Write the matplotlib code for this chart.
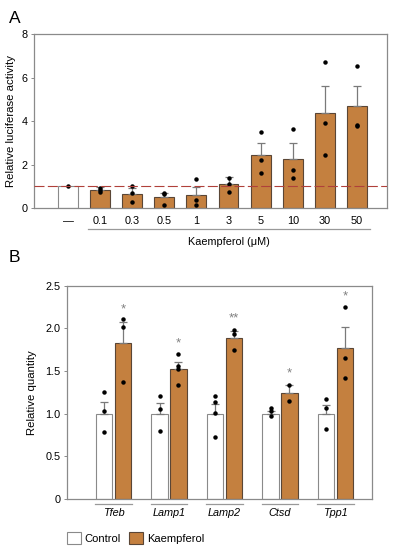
import matplotlib
matplotlib.use("Agg")
import matplotlib.pyplot as plt
from matplotlib.patches import Patch
import numpy as np

plt.rcParams['font.family'] = ['Liberation Sans', 'DejaVu Sans']

# ---------------- Panel A data ----------------
a_labels = ["—", "0.1", "0.3", "0.5", "1", "3", "5", "10", "30", "50"]
a_means = [1.0, 0.84, 0.64, 0.50, 0.58, 1.10, 2.43, 2.25, 4.36, 4.70]
a_sem = [0.0, 0.12, 0.26, 0.21, 0.40, 0.31, 0.57, 0.73, 1.24, 0.90]
a_points = [
    [1.0],
    [0.94, 0.82, 0.76],
    [1.02, 0.70, 0.26],
    [0.71, 0.16, 0.63],
    [1.35, 0.36, 0.12],
    [1.40, 0.76, 1.12],
    [3.52, 2.23, 1.60],
    [3.66, 1.74, 1.40],
    [6.74, 3.92, 2.42],
    [6.52, 3.83, 3.77],
]

# ---------------- Panel B data ----------------
genes = ["Tfeb", "Lamp1", "Lamp2", "Ctsd", "Tpp1"]
ctrl_means = [1.0, 1.0, 1.0, 1.0, 1.0]
ctrl_sem = [0.135, 0.125, 0.11, 0.03, 0.105]
ctrl_points = [
    [1.25, 1.03, 0.78],
    [1.20, 1.055, 0.80],
    [1.21, 1.14, 1.01, 0.725],
    [1.07, 1.035, 0.965],
    [1.17, 1.06, 0.815],
]
kaem_means = [1.83, 1.52, 1.885, 1.235, 1.765]
kaem_sem = [0.24, 0.08, 0.085, 0.095, 0.255]
kaem_points = [
    [2.11, 2.02, 1.37],
    [1.70, 1.56, 1.52, 1.34],
    [1.985, 1.93, 1.745],
    [1.33, 1.15],
    [2.25, 1.65, 1.42],
]
signif = ["*", "*", "**", "*", "*"]
signif_y = [2.22, 1.82, 2.115, 1.47, 2.38]

BAR = "#C4803F"
EDGE = "#5a4636"
SPINE = "#8a8a8a"
ERR = "#7a7a7a"

fig = plt.figure(figsize=(3.93, 5.5), dpi=100)

# ================= Panel A =================
axA = fig.add_axes([0.0865, 0.6218, 0.8985, 0.3158])
x = np.arange(len(a_labels))
colors = ["white"] + [BAR] * (len(a_labels) - 1)
edges = [SPINE] + [EDGE] * (len(a_labels) - 1)
axA.bar(x, a_means, width=0.62, color=colors, edgecolor=edges, linewidth=0.8, zorder=2)
axA.errorbar(x[1:], a_means[1:], yerr=[np.zeros(len(x) - 1), a_sem[1:]], fmt="none",
             ecolor=ERR, elinewidth=0.9, capsize=3, capthick=0.9, zorder=3)
for i, pts in enumerate(a_points):
    axA.plot([x[i]] * len(pts), pts, "o", color="black", markersize=2.2, zorder=4)
axA.axhline(1.0, color="#b0403a", linestyle=(0, (9, 3)), linewidth=0.8, zorder=5)
axA.set_xlim(-1.06, 9.94)
axA.set_ylim(0, 8)
axA.set_yticks([0, 2, 4, 6, 8])
axA.set_xticks(x)
axA.set_xticklabels(a_labels, fontsize=7.8)
axA.tick_params(axis="x", length=0, pad=6)
axA.tick_params(axis="y", labelsize=7.8, length=2.5, width=0.7, color=SPINE, pad=2)
for s in axA.spines.values():
    s.set_color(SPINE)
    s.set_linewidth(0.9)
axA.set_ylabel("Relative luciferase activity", fontsize=8.2, labelpad=4)
trA = axA.get_xaxis_transform()
axA.plot([0.62, 9.4], [-0.12, -0.12], transform=trA, color="#999999", linewidth=0.9, clip_on=False)
axA.text(5, -0.165, "Kaempferol (μM)", transform=trA, ha="center", va="top", fontsize=7.8)
fig.text(0.022, 0.98, "A", fontsize=12.5, ha="left", va="top")

# ================= Panel B =================
axB = fig.add_axes([0.1705, 0.0933, 0.7761, 0.3872])
g = np.arange(len(genes))
off = 0.17
w = 0.30
axB.bar(g - off, ctrl_means, width=w, color="white", edgecolor=SPINE, linewidth=0.8, zorder=2)
axB.bar(g + off, kaem_means, width=w, color=BAR, edgecolor=EDGE, linewidth=0.8, zorder=2)
axB.errorbar(g - off, ctrl_means, yerr=[np.zeros(len(g)), ctrl_sem], fmt="none",
             ecolor=ERR, elinewidth=0.9, capsize=3, capthick=0.9, zorder=3)
axB.errorbar(g + off, kaem_means, yerr=[np.zeros(len(g)), kaem_sem], fmt="none",
             ecolor=ERR, elinewidth=0.9, capsize=3, capthick=0.9, zorder=3)
for i in range(len(genes)):
    axB.plot([g[i] - off] * len(ctrl_points[i]), ctrl_points[i], "o", color="black", markersize=2.2, zorder=4)
    axB.plot([g[i] + off] * len(kaem_points[i]), kaem_points[i], "o", color="black", markersize=2.2, zorder=4)
    axB.text(g[i] + off, signif_y[i], signif[i], ha="center", va="center", fontsize=9.5, color="#808080")
axB.set_xlim(-0.84, 4.66)
axB.set_ylim(0, 2.5)
axB.set_yticks([0, 0.5, 1.0, 1.5, 2.0, 2.5])
axB.set_yticklabels(["0", "0.5", "1.0", "1.5", "2.0", "2.5"])
axB.set_xticks([])
axB.tick_params(axis="y", labelsize=7.8, length=2.5, width=0.7, color=SPINE, pad=2)
for s in axB.spines.values():
    s.set_color(SPINE)
    s.set_linewidth(0.9)
axB.set_ylabel("Relative quantity", fontsize=8.2, labelpad=6)
trB = axB.get_xaxis_transform()
for i, name in enumerate(genes):
    axB.plot([g[i] - 0.33, g[i] + 0.33], [-0.025, -0.025], transform=trB, color="#999999",
             linewidth=0.9, clip_on=False)
    axB.text(g[i], -0.045, name, transform=trB, ha="center", va="top", fontsize=7.8, style="italic")
fig.text(0.022, 0.545, "B", fontsize=12.5, ha="left", va="top")

handles = [Patch(facecolor="white", edgecolor=SPINE, linewidth=0.8, label="Control"),
           Patch(facecolor=BAR, edgecolor=EDGE, linewidth=0.8, label="Kaempferol")]
fig.legend(handles=handles, loc="center left", bbox_to_anchor=(0.158, 0.022), ncol=2,
           frameon=False, fontsize=8, handlelength=1.3, handleheight=1.3,
           handletextpad=0.35, columnspacing=0.7, borderaxespad=0)

fig.savefig("out.png", dpi=100)
